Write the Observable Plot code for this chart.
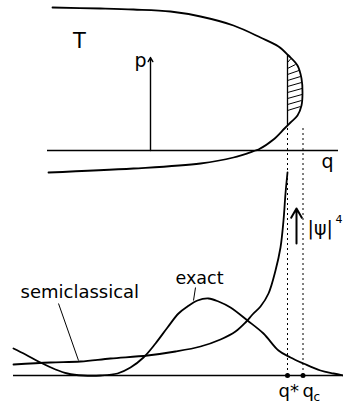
<!DOCTYPE html>
<html>
<head>
<meta charset="utf-8">
<script src="https://cdn.jsdelivr.net/npm/d3@7"></script>
<script src="https://cdn.jsdelivr.net/npm/@observablehq/plot@0.6"></script>
<style>
  html, body { margin: 0; padding: 0; background: #fff; }
  #chart svg { display: block; }
</style>
</head>
<body>
<div id="chart"></div>
<script>
// Phase-space orbit (top panel): q along the axis, momentum p above/below it
const orbitQ = [-98, -50, -17, 20, 50, 83, 110, 128, 138, 147, 151, 152, 151, 147, 140, 134, 123, 108, 105, 83, 50, -17, -102];
const orbitP = [143, 142, 141, 139, 134, 125, 113, 104, 95, 85, 72, 58, 45, 35, 28, 22, 11, 1, 0, -7, -13, -18, -22];

// |psi|^4 profiles (bottom panel)
const semiQ = [-137, -100, -70, -40, -3, 25, 50, 70, 85, 95, 102, 110, 118, 125, 130, 133, 135, 137];
const semiW = [11, 13, 14, 17, 20, 24, 29, 36, 44, 53, 61, 69, 82, 105, 128, 155, 182, 203];
const exactQ = [-137, -125, -110, -95, -83, -67, -50, -33, -20, -7, 5, 17, 28, 37, 47, 58, 68, 80, 97, 113, 128, 140, 153, 170, 183, 193];
const exactW = [27, 21, 13, 6, 2, 0, 0, 2, 8, 18, 32, 48, 62, 69, 75, 77, 74, 68, 55, 42, 25, 18, 12, 5, 2, 0];

// Special points on the q axis
const qStar = 137;
const qC = 152.5;

// Hatched tunnelling region between q* and the turning point
const hatchPLeft = [88, 82, 76, 70, 64, 58, 52, 46, 40];
const hatchPRight = [92, 86, 80, 74, 68, 62, 56, 50, 44];
const hatchQRight = [140.5, 145, 148.5, 150, 151, 151.5, 151.5, 151, 150];

// Vertical placement of the two panels inside one frame
const TOP = 258;   // q axis of the phase-space panel
const BOT = 33;    // baseline of the |psi|^4 panel

const zip = (qs, vs) => qs.map((q, i) => ({q, v: vs[i]}));
const orbit = zip(orbitQ, orbitP);
const semi = zip(semiQ, semiW);
const exact = zip(exactQ, exactW);
const hatch = hatchPLeft.map((p, i) => ({p1: p, p2: hatchPRight[i], q2: hatchQRight[i]}));

const FONT = "DejaVu Sans";
const ink = "#000";

const chart = Plot.plot({
  width: 343,
  height: 408,
  margin: 0,
  x: {domain: [-150, 193], axis: null},
  y: {domain: [0, 408], axis: null},
  style: {background: "#fff", fontFamily: FONT, color: ink},
  marks: [
    // axes
    Plot.ruleY([TOP], {x1: -103, x2: 188, stroke: ink, strokeWidth: 1.5}),
    Plot.ruleY([BOT], {x1: -137, x2: 193, stroke: ink, strokeWidth: 1.5}),
    Plot.arrow([0], {x1: () => 0, y1: () => TOP, x2: () => 0, y2: () => TOP + 93,
      stroke: ink, strokeWidth: 1.4, headLength: 5}),

    // dotted guides from the orbit down to q* and q_c
    Plot.ruleX([qStar], {y1: BOT, y2: TOP + 25, stroke: ink, strokeWidth: 1, strokeDasharray: "2,3"}),
    Plot.ruleX([qC], {y1: BOT, y2: TOP + 23, stroke: ink, strokeWidth: 1, strokeDasharray: "2,3"}),

    // hatched region
    Plot.ruleX([qStar], {y1: TOP + 25, y2: TOP + 96, stroke: ink, strokeWidth: 1.3}),
    Plot.link(hatch, {x1: () => qStar, y1: d => TOP + d.p1, x2: "q2", y2: d => TOP + d.p2,
      stroke: ink, strokeWidth: 1}),

    // orbit
    Plot.line(orbit, {x: "q", y: d => TOP + d.v, curve: "catmull-rom", stroke: ink, strokeWidth: 1.8}),

    // |psi|^4 curves
    Plot.line(semi, {x: "q", y: d => BOT + d.v, curve: "catmull-rom", stroke: ink, strokeWidth: 1.8}),
    Plot.line(exact, {x: "q", y: d => BOT + d.v, curve: "catmull-rom", stroke: ink, strokeWidth: 1.8}),

    // markers at q* and q_c
    Plot.dot([qStar, qC], {x: d => d, y: () => BOT, r: 2.5, fill: ink, stroke: "none"}),

    // |psi|^4 direction arrow
    Plot.arrow([0], {x1: () => 146, y1: () => BOT + 132, x2: () => 146, y2: () => BOT + 167,
      stroke: ink, strokeWidth: 2, headLength: 8}),

    // leader lines
    Plot.link([0], {x1: () => -92, y1: () => BOT + 72, x2: () => -72, y2: () => BOT + 15, stroke: ink, strokeWidth: 1}),
    Plot.link([0], {x1: () => 45, y1: () => BOT + 88, x2: () => 43, y2: () => BOT + 75, stroke: ink, strokeWidth: 1}),

    // labels
    Plot.text(["T"], {x: () => -71, y: () => 361, text: d => d, fontSize: 21, textAnchor: "middle", lineAnchor: "bottom"}),
    Plot.text(["p"], {x: () => -10, y: () => 342, text: d => d, fontSize: 19, textAnchor: "middle", lineAnchor: "bottom"}),
    Plot.text(["q"], {x: () => 177, y: () => 241, text: d => d, fontSize: 19, textAnchor: "middle", lineAnchor: "bottom"}),
    Plot.text(["semiclassical"], {x: () => -130, y: () => 111, text: d => d, fontSize: 18, textAnchor: "start", lineAnchor: "bottom"}),
    Plot.text(["exact"], {x: () => 25, y: () => 125, text: d => d, fontSize: 17.5, textAnchor: "start", lineAnchor: "bottom"}),
    Plot.text(["|ψ|"], {x: () => 157, y: () => 174, text: d => d, fontSize: 19, textAnchor: "start", lineAnchor: "bottom"}),
    Plot.text(["4"], {x: () => 185, y: () => 186, text: d => d, fontSize: 11, textAnchor: "start", lineAnchor: "bottom"}),
    Plot.text(["q*"], {x: () => 128, y: () => 12, text: d => d, fontSize: 18, textAnchor: "start", lineAnchor: "bottom"}),
    Plot.text(["q"], {x: () => 152, y: () => 12, text: d => d, fontSize: 18, textAnchor: "start", lineAnchor: "bottom"}),
    Plot.text(["c"], {x: () => 163, y: () => 8, text: d => d, fontSize: 12, textAnchor: "start", lineAnchor: "bottom"})
  ]
});

document.getElementById("chart").append(chart);
</script>
</body>
</html>
